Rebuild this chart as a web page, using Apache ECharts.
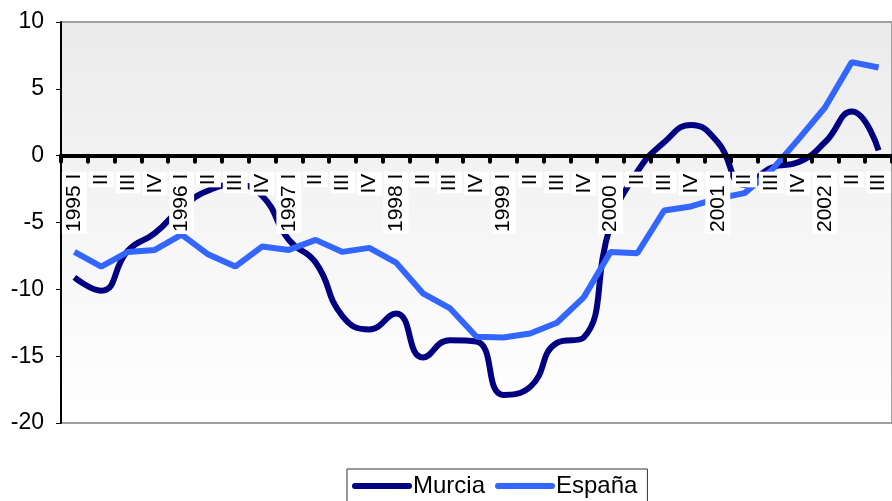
<!DOCTYPE html>
<html>
<head>
<meta charset="utf-8">
<script src="https://cdn.jsdelivr.net/npm/echarts@6/dist/echarts.min.js"></script>
<style>
html, body { margin: 0; padding: 0; background: #fff; }
#chart { width: 892px; height: 501px; }
</style>
</head>
<body>
<div id="chart"></div>
<script>
// trimestres 1995 I - 2002 III
var years = ['1995', '1996', '1997', '1998', '1999', '2000', '2001', '2002'];
var quarters = ['I', 'II', 'III', 'IV'];
var categorias = [];
years.forEach(function (y) {
	quarters.forEach(function (q) {
		categorias.push(q === 'I' ? y + ' I' : q);
	});
});
categorias = categorias.slice(0, 31);

var murcia = [-9.1, -10.1, -7.1, -5.8, -3.9, -2.6, -2.2, -3.0, -6.3, -8.0, -12.0, -13.0, -11.8, -15.1, -13.8, -13.9,
	-17.9, -17.3, -14.0, -13.6, -5.2, -1.2, 1.0, 2.3, 1.0, -2.2, -0.9, -0.5, 1.0, 3.3, 0.4];
var espana = [-7.2, -8.3, -7.2, -7.05, -5.9, -7.4, -8.3, -6.8, -7.05, -6.3, -7.2, -6.9, -8.0, -10.3, -11.4, -13.55,
	-13.6, -13.3, -12.5, -10.6, -7.2, -7.3, -4.1, -3.8, -3.2, -2.8, -1.1, 1.2, 3.6, 7.0, 6.6];

var yMin = -20, yMax = 10, yStep = 5;
var fuente = 'Liberation Sans, Arial, sans-serif';

var gridTop = 22, gridBottom = 78, altura = 501;
// el eje de categorías se dibuja en el cero
var plotH = altura - gridTop - gridBottom;
var offsetCero = -plotH * (0 - yMin) / (yMax - yMin);

var myChart = echarts.init(document.getElementById('chart'));

var option = {
	animation: false,
	grid: {
		left: 61,
		right: -7,
		top: gridTop,
		bottom: gridBottom,
		show: true,
		borderColor: '#a0a0a0',
		borderWidth: 2,
		backgroundColor: new echarts.graphic.LinearGradient(0, 0, 0, 1, [
			{ offset: 0, color: '#ebebeb' },
			{ offset: 1, color: '#ffffff' }
		])
	},
	legend: {
		top: 469,
		left: 347,
		padding: [5, 10, 5, 5],
		borderColor: '#333',
		borderWidth: 1,
		itemGap: 10,
		itemWidth: 60,
		itemHeight: 7,
		icon: 'path://M3,0 H57 A3,3 0 0 1 57,6 H3 A3,3 0 0 1 3,0 Z',
		textStyle: {
			fontFamily: fuente,
			fontSize: 24,
			color: '#000',
			padding: [0, 0, 0, -4]
		},
		data: ['Murcia', 'España']
	},
	xAxis: {
		type: 'category',
		data: categorias,
		z: 5,
		offset: offsetCero,
		axisLine: {
			onZero: false,
			lineStyle: { color: '#000', width: 4 }
		},
		axisTick: {
			show: true,
			length: 6,
			lineStyle: { color: '#000', width: 4, cap: 'round' }
		},
		axisLabel: {
			interval: 0,
			rotate: 90,
			margin: 16,
			fontFamily: fuente,
			fontSize: 21,
			color: '#000',
			backgroundColor: '#fff',
			padding: [2, 2]
		},
		splitLine: { show: false }
	},
	yAxis: {
		type: 'value',
		min: yMin,
		max: yMax,
		interval: yStep,
		axisLine: {
			show: true,
			lineStyle: { color: '#000', width: 2 }
		},
		axisTick: {
			show: true,
			length: 5,
			lineStyle: { color: '#000', width: 1 }
		},
		axisLabel: {
			margin: 17,
			fontFamily: fuente,
			fontSize: 23,
			color: '#000'
		},
		splitLine: { show: false }
	},
	series: [
		{
			name: 'Murcia',
			type: 'line',
			data: murcia,
			smooth: true,
			showSymbol: false,
			lineStyle: { color: '#000080', width: 6 },
			itemStyle: { color: '#000080' }
		},
		{
			name: 'España',
			type: 'line',
			data: espana,
			showSymbol: false,
			lineStyle: { color: '#3366ff', width: 6 },
			itemStyle: { color: '#3366ff' }
		}
	]
};

myChart.setOption(option);

window.addEventListener('resize', function () {
	myChart.resize();
});
</script>
</body>
</html>
